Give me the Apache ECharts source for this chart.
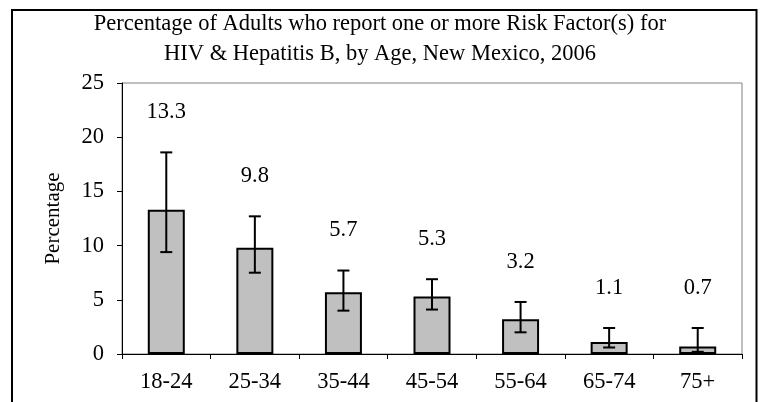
<!DOCTYPE html>
<html>
<head>
<meta charset="utf-8">
<script src="https://cdn.jsdelivr.net/npm/echarts@6/dist/echarts.min.js"></script>
<style>html,body{margin:0;padding:0;background:#fff;}#c{width:760px;height:402px;}</style>
</head>
<body>
<div id="c"></div>
<script>
var categories = ['18-24', '25-34', '35-44', '45-54', '55-64', '65-74', '75+'];
var values = [13.3, 9.8, 5.7, 5.3, 3.2, 1.1, 0.7];
var upperCI = [18.6, 12.7, 7.7, 6.9, 4.8, 2.4, 2.4];
var lowerCI = [9.4, 7.5, 4.0, 4.1, 2.0, 0.6, 0.2];
var titleLines = ['Percentage of Adults who report one or more Risk Factor(s) for', 'HIV & Hepatitis B, by Age, New Mexico, 2006'];

var FONT = '"Liberation Serif", "Times New Roman", serif';
var FS = 22.5;
var chart = echarts.init(document.getElementById('c'), null, {renderer: 'canvas'});
var errData = categories.map(function (c, i) { return [i, lowerCI[i], upperCI[i], values[i]]; });

chart.setOption({
  animation: false,
  backgroundColor: '#fff',
  title: {
    text: titleLines.join('\n'),
    left: 'center',
    top: 4,
    textStyle: {fontFamily: FONT, fontSize: FS, fontWeight: 'normal', color: '#000', lineHeight: 30}
  },
  graphic: [{
    type: 'rect',
    shape: {x: 12, y: 10, width: 744.5, height: 400},
    style: {fill: 'none', stroke: '#000', lineWidth: 2},
    silent: true
  }],
  grid: {left: 122, top: 83, right: 18, bottom: 48, show: true, borderColor: '#808080', borderWidth: 1, backgroundColor: 'transparent'},
  xAxis: {
    type: 'category',
    data: categories,
    boundaryGap: true,
    axisLine: {lineStyle: {color: '#000', width: 1}},
    axisTick: {show: true, alignWithLabel: false, length: 5, lineStyle: {color: '#000'}},
    axisLabel: {fontFamily: FONT, fontSize: FS, color: '#000', margin: 17}
  },
  yAxis: {
    type: 'value',
    min: 0, max: 25, interval: 5,
    name: 'Percentage',
    nameLocation: 'middle',
    nameRotate: 90,
    nameGap: 58,
    nameTextStyle: {fontFamily: FONT, fontSize: 21, color: '#000'},
    axisLine: {show: true, lineStyle: {color: '#000', width: 1}},
    axisTick: {show: true, length: 5, lineStyle: {color: '#000'}},
    splitLine: {show: false},
    axisLabel: {fontFamily: FONT, fontSize: FS, color: '#000', margin: 18}
  },
  series: [{
    type: 'bar',
    data: values,
    barWidth: 37,
    itemStyle: {color: '#c0c0c0', borderColor: '#000', borderWidth: 2},
    z: 2
  }, {
    type: 'custom',
    data: errData,
    z: 5,
    renderItem: function (params, api) {
      var x = api.value(0);
      var lo = api.coord([x, api.value(1)]);
      var hi = api.coord([x, api.value(2)]);
      var cap = 6;
      var ls = {stroke: '#000', lineWidth: 2};
      return {
        type: 'group',
        children: [
          {type: 'line', shape: {x1: hi[0], y1: hi[1], x2: lo[0], y2: lo[1]}, style: ls},
          {type: 'line', shape: {x1: hi[0] - cap, y1: hi[1], x2: hi[0] + cap, y2: hi[1]}, style: ls},
          {type: 'line', shape: {x1: lo[0] - cap, y1: lo[1], x2: lo[0] + cap, y2: lo[1]}, style: ls},
          {type: 'text', style: {text: api.value(3).toFixed(1), x: hi[0], y: hi[1] - 40, align: 'center', verticalAlign: 'middle', fontFamily: FONT, fontSize: FS, fill: '#000'}}
        ]
      };
    }
  }]
});
</script>
</body>
</html>
